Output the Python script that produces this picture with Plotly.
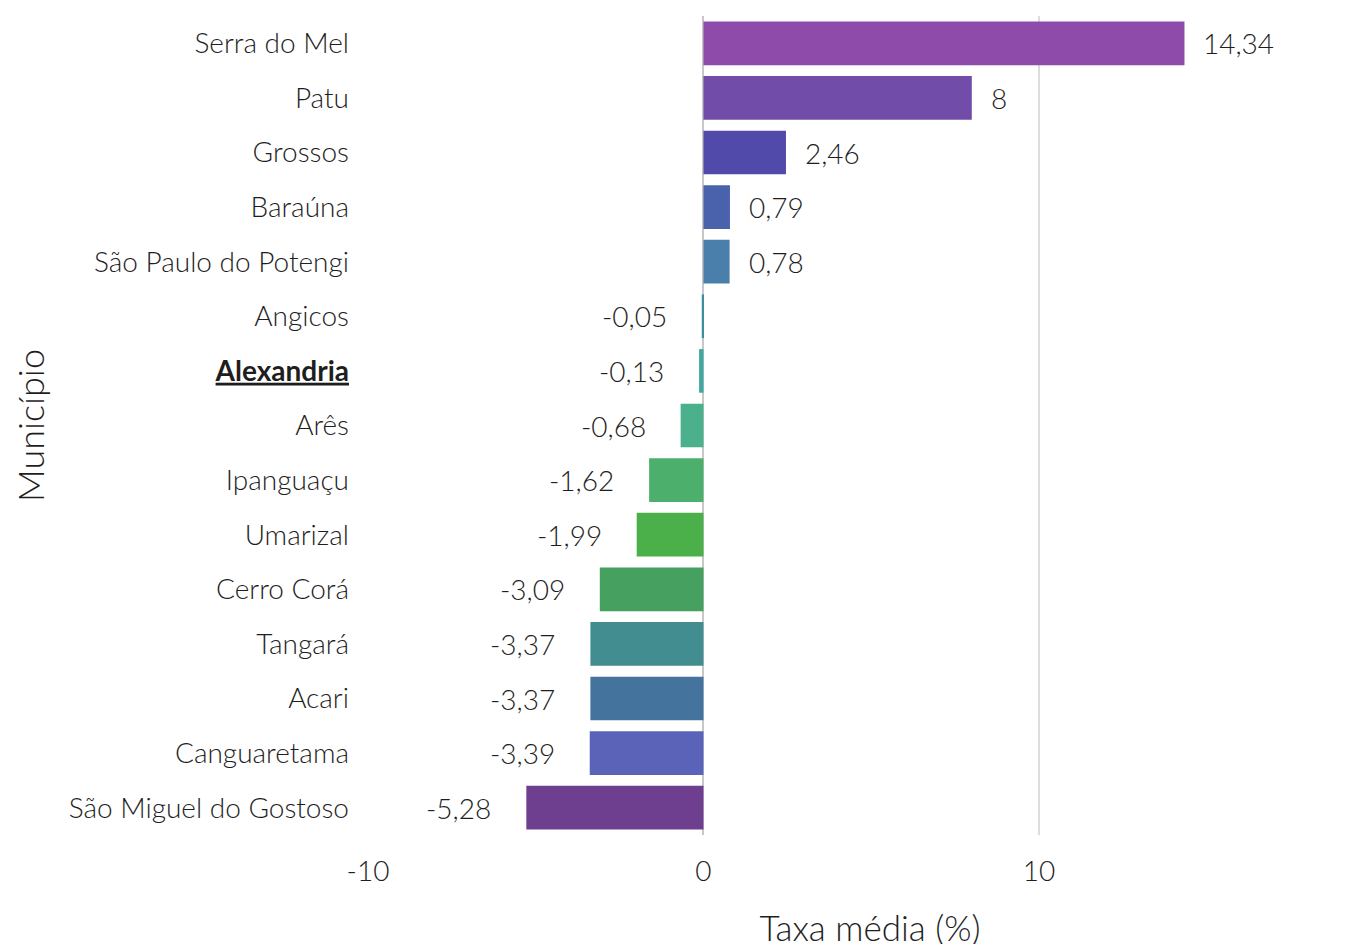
import plotly.graph_objects as go

municipios = ["Serra do Mel", "Patu", "Grossos", "Baraúna", "São Paulo do Potengi",
              "Angicos", "Alexandria", "Arês", "Ipanguaçu", "Umarizal", "Cerro Corá",
              "Tangará", "Acari", "Canguaretama", "São Miguel do Gostoso"]
taxas = [14.34, 8, 2.46, 0.79, 0.78, -0.05, -0.13, -0.68, -1.62, -1.99, -3.09,
         -3.37, -3.37, -3.39, -5.28]
cores = ["#8E4BAA", "#714CA9", "#524AAB", "#4A62AC", "#4A7FAC", "#3E8DA0", "#40A8A0",
         "#4BB08C", "#4CB06C", "#4BAF4A", "#46A060", "#418D90", "#44739E", "#5A63B8",
         "#6E3E8F"]
destaque = "Alexandria"
x_ticks = [-10, 0, 10]

def fmt(v):
    s = f"{v:.2f}".rstrip("0").rstrip(".")
    return s.replace(".", ",")

ticktext = [f"<b><u>{m}</u></b>" if m == destaque else m for m in municipios]

font_light = dict(family="Lato", weight=300, color="#1E1E1E")

fig = go.Figure(go.Bar(
    x=taxas, y=municipios, orientation="h",
    marker=dict(color=cores, line=dict(width=0)),
    hoverinfo="skip",
))

for m, v in zip(municipios, taxas):
    fig.add_annotation(
        x=v, y=m, text=fmt(v), showarrow=False,
        xanchor="left" if v > 0 else "right",
        xshift=17 if v > 0 else -33,
        font=dict(size=28, **font_light),
    )

fig.update_layout(
    width=1364, height=944,
    paper_bgcolor="white", plot_bgcolor="white",
    margin=dict(l=360, r=0, t=8, b=117),
    bargap=0.2,
    showlegend=False,
    font=font_light,
    xaxis=dict(
        range=[-10, 19.93], tickvals=x_ticks, ticktext=[str(t) for t in x_ticks],
        showgrid=True, gridcolor="#DDDDDD", gridwidth=2,
        zeroline=True, zerolinecolor="#C8C8C8", zerolinewidth=2,
        tickfont=dict(size=28, **font_light),
        ticklabelstandoff=17,
        title=dict(text="Taxa média (%)", font=dict(size=35, **font_light), standoff=30),
        ticks="", ticklen=0, automargin=False,
    ),
    yaxis=dict(
        categoryorder="array", categoryarray=municipios[::-1],
        tickvals=municipios, ticktext=ticktext,
        tickfont=dict(size=28, **font_light),
        ticklabelstandoff=18,
        title=dict(text="Município", font=dict(size=36, **font_light), standoff=18),
        showgrid=False, ticks="", ticklen=0, automargin=False,
    ),
)

fig.write_html("out.html")
